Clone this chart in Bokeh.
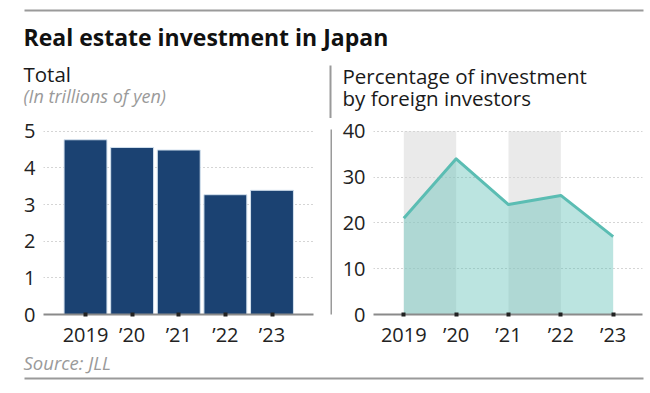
from bokeh.plotting import figure
from bokeh.models import Range1d, FixedTicker, Label, BoxAnnotation
from bokeh.layouts import column, row
from bokeh.embed import file_html
from bokeh.resources import INLINE

# ---- data ----
years = [2019, 2020, 2021, 2022, 2023]
year_labels = ["2019", "\u201920", "\u201921", "\u201922", "\u201923"]
total_trillion_yen = [4.77, 4.56, 4.49, 3.27, 3.39]
foreign_pct = [21, 34, 24, 26, 17]
left_ticks = [0, 1, 2, 3, 4, 5]
right_ticks = [0, 10, 20, 30, 40]

title_text = "Real estate investment in Japan"
left_title = "Total"
left_sub = "(In trillions of yen)"
right_title = ["Percentage of investment", "by foreign investors"]
source_text = "Source: JLL"

FONT = "Open Sans"
W = 650
RULE = "#9a9a9a"
TICK_SIZE = "20px"


def canvas_fig(width, height, y_top, y_bottom):
    """A figure whose frame fills its whole canvas, in page-pixel units."""
    f = figure(width=width, height=height, x_range=Range1d(0, width),
               y_range=Range1d(y_bottom, y_top), x_axis_location=None,
               y_axis_location=None, toolbar_location=None, output_backend="svg",
               min_border_left=0, min_border_right=0, min_border_top=0,
               min_border_bottom=0)
    f.xgrid.visible = False
    f.ygrid.visible = False
    f.outline_line_color = None
    f.background_fill_color = "white"
    f.border_fill_color = "white"
    return f


def text(f, x, y, s, size, color="#1a1a1a", style="normal"):
    f.add_layout(Label(x=x, y=y, text=s, text_font=FONT, text_font_size=size,
                       text_font_style=style, text_color=color,
                       text_baseline="alphabetic", text_align="left"))


def rule(f, left, right, top, bottom):
    f.add_layout(BoxAnnotation(left=left, right=right, top=top, bottom=bottom,
                               fill_color=RULE, fill_alpha=1, line_color=None,
                               level="overlay"))


# ---- header (page y 0..118) ----
header = canvas_fig(W, 118, 0, 118)
rule(header, 24, 643, 9, 11)
text(header, 23, 36, title_text, "23px", "#111111", "bold")
text(header, 23, 73, left_title, "20.5px")
text(header, 23, 95, left_sub, "18px", "#9a9a9a", "italic")
text(header, 342, 75, right_title[0], "20.5px")
text(header, 342, 97, right_title[1], "20.5px")
rule(header, 329, 331, 65, 118)

# ---- left chart ----
left = figure(width=330, height=232, x_range=Range1d(2018.099, 2023.89),
              y_range=Range1d(0, 5.05), toolbar_location=None, output_backend="svg",
              min_border_left=43, min_border_right=17, min_border_top=11,
              min_border_bottom=35)
left.vbar(x=years, top=total_trillion_yen, width=0.92, fill_color="#1b4272",
          line_color="#d3e1ee", line_width=1)

# ---- right chart ----
right = figure(width=318, height=232, x_range=Range1d(2018.421, 2023.56),
               y_range=Range1d(0, 40.4), toolbar_location=None, output_backend="svg",
               min_border_left=41, min_border_right=8, min_border_top=11,
               min_border_bottom=35)
right.quad(left=years[0:4:2], right=years[1:4:2], bottom=0, top=right_ticks[-1],
           fill_color="#d6d6d6", fill_alpha=0.5, line_color=None)
right.varea(x=years, y1=0, y2=foreign_pct, fill_color="#5dbfb4", fill_alpha=0.42)
right.line(x=years, y=foreign_pct, line_color="#5bbdb3", line_width=3, line_join="round")

for fig, yt in ((left, left_ticks), (right, right_ticks)):
    fig.outline_line_color = None
    fig.background_fill_color = "white"
    fig.border_fill_color = "white"
    fig.xgrid.visible = False
    fig.ygrid.ticker = FixedTicker(ticks=yt)
    fig.ygrid.grid_line_color = "#aaaaaa"
    fig.ygrid.grid_line_dash = "1 3"
    fig.ygrid.grid_line_width = 1

    xa = fig.xaxis[0]
    xa.ticker = FixedTicker(ticks=years)
    xa.major_label_overrides = {y: l for y, l in zip(years, year_labels)}
    xa.axis_line_color = "#8a8a8a"
    xa.axis_line_width = 2
    xa.major_tick_line_color = "#222222"
    xa.major_tick_line_width = 4
    xa.major_tick_in = 2
    xa.major_tick_out = 2
    xa.minor_tick_line_color = None
    xa.major_label_standoff = 4
    xa.major_label_text_font = FONT
    xa.major_label_text_font_size = TICK_SIZE
    xa.major_label_text_color = "#222222"

    ya = fig.yaxis[0]
    ya.ticker = FixedTicker(ticks=yt)
    ya.axis_line_color = None
    ya.major_tick_line_color = None
    ya.minor_tick_line_color = None
    ya.major_tick_out = 0
    ya.major_tick_in = 0
    ya.major_label_standoff = 8
    ya.major_label_text_font = FONT
    ya.major_label_text_font_size = TICK_SIZE
    ya.major_label_text_color = "#222222"

# ---- divider (page y 118..340) ----
divider = figure(width=2, height=232, x_range=Range1d(0, 1), y_range=Range1d(0, 1),
                 x_axis_location=None, y_axis_location=None, toolbar_location=None,
                 output_backend="svg", min_border_left=0, min_border_right=0,
                 min_border_top=0, min_border_bottom=10)
divider.xgrid.visible = False
divider.ygrid.visible = False
divider.outline_line_color = None
divider.background_fill_color = RULE
divider.border_fill_color = "white"

# ---- footer (page y 350..393) ----
footer = canvas_fig(W, 43, 350, 393)
text(footer, 23, 362, source_text, "18.5px", "#9a9a9a", "italic")
rule(footer, 24, 643, 377, 379)

layout = column(header, row(left, divider, right), footer)

open("out.html", "w").write(file_html(layout, INLINE))
